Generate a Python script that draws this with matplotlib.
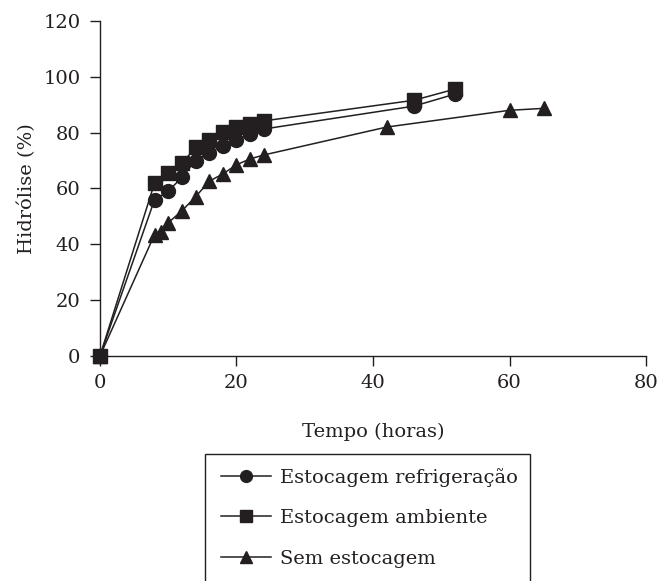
import matplotlib.pyplot as plt
from matplotlib.patches import Rectangle

# tempo (horas) e hidrólise (%)
t_refrig = [0, 8, 10, 12, 14, 16, 18, 20, 22, 24, 46, 52]
h_refrig = [0, 56, 59, 64, 70, 72.7, 75.3, 77.4, 79.5, 81.3, 89.5, 93.8]

t_amb = [0, 8, 10, 12, 14, 16, 18, 20, 22, 24, 46, 52]
h_amb = [0, 62, 65.6, 69, 74.7, 77.4, 80.3, 82, 83, 84.2, 91.6, 95.6]

t_sem = [0, 8, 9, 10, 12, 14, 16, 18, 20, 22, 24, 42, 60, 65]
h_sem = [0, 43.5, 44.5, 47.7, 52, 57, 62.6, 65.2, 68.5, 70.6, 72, 82, 88, 88.7]

labels = ['Estocagem refrigeração', 'Estocagem ambiente', 'Sem estocagem']
x_ticks = [0, 20, 40, 60, 80]
y_ticks = [0, 20, 40, 60, 80, 100, 120]

ink = '#231f20'
plt.rcParams['font.family'] = ['DejaVu Serif']
plt.rcParams['font.size'] = 14

fig = plt.figure(figsize=(6.62, 5.81), dpi=100)
ax = fig.add_axes([0.151, 0.3873, 0.825, 0.5766])

# triângulos embaixo, quadrados por cima
l_sem, = ax.plot(t_sem, h_sem, color=ink, lw=1.1, marker='^', ms=10.5, clip_on=False)
l_ref, = ax.plot(t_refrig, h_refrig, color=ink, lw=1.1, marker='o', ms=10, clip_on=False)
l_amb, = ax.plot(t_amb, h_amb, color=ink, lw=1.1, marker='s', ms=10.5, clip_on=False)

ax.set_xlim(0, 80)
ax.set_ylim(0, 120)
ax.set_xticks(x_ticks)
ax.set_yticks(y_ticks)
ax.spines['top'].set_visible(False)
ax.spines['right'].set_visible(False)
for s in ['left', 'bottom']:
    ax.spines[s].set_color(ink)
    ax.spines[s].set_linewidth(1.0)
ax.tick_params(direction='out', length=7, width=1.0, colors=ink, labelcolor=ink)
ax.tick_params(axis='x', pad=6)
ax.tick_params(axis='y', pad=7)
ax.set_xlabel('Tempo (horas)', color=ink, labelpad=22)
ax.set_ylabel('Hidrólise (%)', color=ink, labelpad=5)

# legenda sem moldura, moldura desenhada à parte (cortada pela borda)
fig.legend([l_ref, l_amb, l_sem], labels, loc='upper left',
           bbox_to_anchor=(0.322, 0.208), frameon=False,
           handlelength=2.6, labelspacing=1.15, handletextpad=0.45,
           borderaxespad=0, labelcolor=ink, markerscale=0.85)
fig.add_artist(Rectangle((205 / 662, -0.05), 325 / 662, 0.05 + 127 / 581,
                         transform=fig.transFigure, fill=False, ec=ink, lw=1.0,
                         clip_on=False))

fig.savefig('out.png', dpi=100)
